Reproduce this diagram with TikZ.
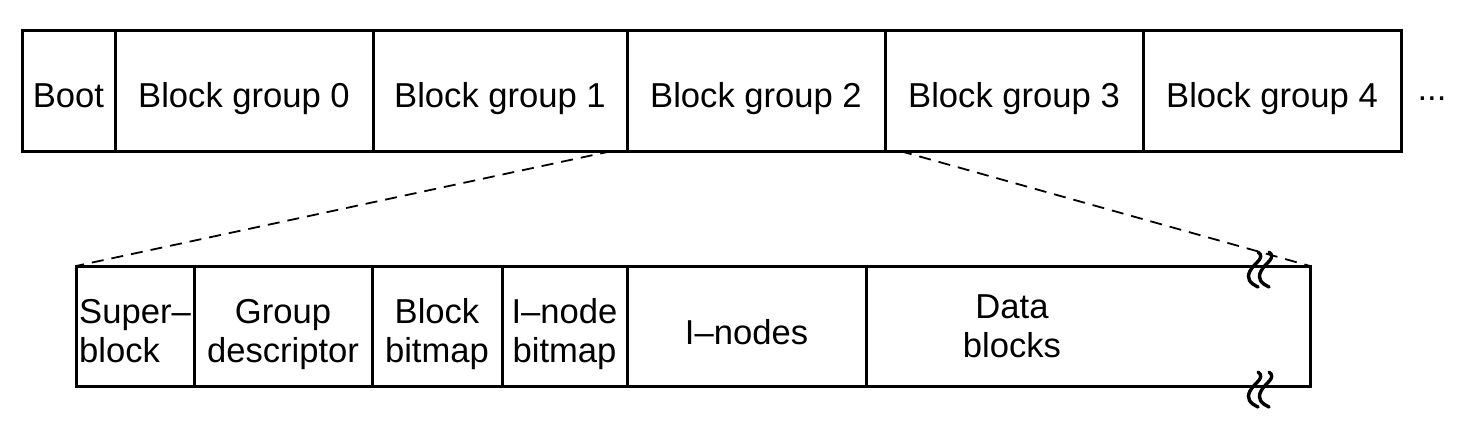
\documentclass[tikz,border=0pt]{standalone}
\usepackage{fontspec}
\setmainfont{Liberation Sans}
\usetikzlibrary{positioning}

\begin{document}
\begin{tikzpicture}[
            x=0.5pt, y=-0.5pt,
            font=\fontsize{17.3}{19.5}\selectfont,
            node distance=0pt,
        % disk row: one cell per block group
            grp/.style={draw, rectangle, line width=1.5pt, outer sep=0pt, inner sep=1pt,
            minimum height=60.5pt, text height=17pt, text depth=0pt},
        % lower row: the fields of one block group
            fld/.style={draw, rectangle, line width=1.5pt, outer sep=0pt, inner sep=1pt,
            minimum height=60pt, align=center, text height=36pt, text depth=0pt},
            zoomline/.style={dash pattern=on 6pt off 4pt, line width=0.9pt},
            brk/.style={line width=1.7pt, line cap=round}
        ]
            \useasboundingbox (0,0) rectangle (1481,430);

% --- disk layout (top) ---
            \node[grp, minimum width=46.5pt, anchor=north west] (boot) at (22,30) {Boot};
            \node[grp, minimum width=129pt, right=of boot] (bg0) {Block group 0};
            \node[grp, minimum width=127pt, right=of bg0] (bg1) {Block group 1};
            \node[grp, minimum width=129pt, right=of bg1] (bg2) {Block group 2};
            \node[grp, minimum width=129pt, right=of bg2] (bg3) {Block group 3};
            \node[grp, minimum width=129pt, right=of bg3] (bg4) {Block group 4};
            \node[anchor=base] (more) at (1432,100) {...};

% --- one block group (bottom) ---
            \node[fld, minimum width=59pt, anchor=north west, align=left] (sb) at (76,266) {Super–\\block};
            \node[fld, minimum width=89pt, right=of sb] (gd) {Group\\descriptor};
            \node[fld, minimum width=65pt, right=of gd] (bb) {Block\\bitmap};
            \node[fld, minimum width=62.5pt, right=of bb] (ib) {I–node\\bitmap};
            \node[fld, minimum width=119.5pt, right=of ib, text height=18pt] (inodes) {I–nodes};
            \node[fld, minimum width=222pt, right=of inodes] (data) {};
            \node[align=center, text height=31pt, text depth=0pt] (datatxt) at ([xshift=-38pt]data.center) {Data\\blocks};

% --- zoom lines ---
            \draw[zoomline] ([xshift=-7.5pt]bg1.south east) -- (sb.north west);
            \draw[zoomline] ([xshift=7.5pt]bg2.south east) -- (data.north east);

% --- break marks on the data blocks ---
            \foreach \y in {270,390}
            \foreach \x in {1253,1264}
            \draw[brk] (\x+5,\y-18) .. controls +(8,6) and +(4,-8) .. (\x-3,\y+1)
            .. controls +(-4,8) and +(-8,-4) .. (\x+5,\y+17);
        \end{tikzpicture}
\end{document}
